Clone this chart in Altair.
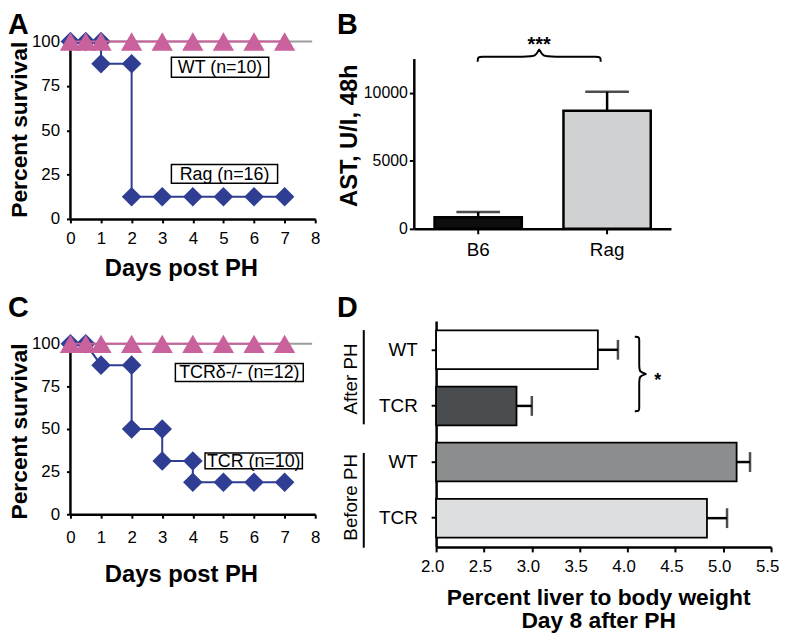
import altair as alt
import pandas as pd

FONT = "Liberation Sans"
BLUE = "#2f3e92"
PINK = "#c8619c"
GREY = "#9d9d9d"
B_COLORS = ["#0d0d0d", "#cfd1d3"]
D_COLORS = ["#ffffff", "#4a4d50", "#8b8d8f", "#dddee0"]

# ---------------- data ----------------
# Panel A: survival, Rag vs WT
a_rag_day = [0, 0.5, 1, 1, 2, 2, 3, 4, 5, 6, 7]
a_rag_surv = [100, 100, 100, 87.5, 87.5, 12.5, 12.5, 12.5, 12.5, 12.5, 12.5]
a_wt_day = [0, 0.5, 1, 2, 3, 4, 5, 6, 7]
a_wt_surv = [100, 100, 100, 100, 100, 100, 100, 100, 100]
a_labels = ["WT (n=10)", "Rag (n=16)"]

# Panel C: survival, TCR vs TCRdelta-/-
c_tcr_day = [0, 0.5, 1, 2, 2, 3, 3, 4, 4, 5, 6, 7]
c_tcr_surv = [100, 100, 87.5, 87.5, 50, 50, 31.25, 31.25, 18.75, 18.75, 18.75, 18.75]
c_ko_day = [0, 0.5, 1, 2, 3, 4, 5, 6, 7]
c_ko_surv = [100, 100, 100, 100, 100, 100, 100, 100, 100]
c_labels = ["TCRδ-/- (n=12)", "TCR (n=10)"]

# Panel B: AST
b_groups = ["B6", "Rag"]
b_mean = [850, 8700]
b_upper = [1240, 10100]
b_sig = ["***"]

# Panel D: liver / body weight
d_cats = ["After WT", "After TCR", "Before WT", "Before TCR"]
d_mean = [3.69, 2.84, 5.14, 4.83]
d_upper = [3.90, 3.00, 5.28, 5.04]
d_groups = ["After PH", "Before PH"]
d_sig = ["*"]

panel_letters = ["A", "B", "C", "D"]
surv_ticks = [0, 25, 50, 75, 100]
day_ticks = [0, 1, 2, 3, 4, 5, 6, 7, 8]
ast_ticks = [0, 5000, 10000]
ratio_ticks = [2.0, 2.5, 3.0, 3.5, 4.0, 4.5, 5.0, 5.5]

# ---------------- annotation geometry (data units) ----------------
a_box_x1 = [3.30, 3.30]
a_box_x2 = [6.48, 6.77]
a_box_y1 = [79.9, 20.1]
a_box_y2 = [91.1, 30.7]

c_box_x1 = [3.43, 4.40]
c_box_x2 = [7.61, 7.58]
c_box_y1 = [77.9, 26.7]
c_box_y2 = [88.4, 36.0]

# unit curly-brace outline (u along, v across; 0 = tips, 1 = cusp)
brace_u = [0.0, 0.0, 0.04, 0.10, 0.40, 0.47, 0.50, 0.50, 0.53, 0.60, 0.90, 0.96, 1.0, 1.0]
brace_v = [0.0, 0.45, 0.45, 0.45, 0.45, 0.45, 1.15, 1.15, 0.45, 0.45, 0.45, 0.45, 0.45, 0.0]

# D annotations in "bar index" units (0 = first bar centre)
d_group_y = [0.52, 2.63]
d_group_y1 = [-0.35, 1.84]
d_group_y2 = [1.33, 3.53]


def letter_layer(letter, dx, dy):
    return alt.Chart(pd.DataFrame({"t": [letter]})).mark_text(
        font=FONT, fontSize=29, fontWeight="bold", align="left", baseline="top", color="black"
    ).encode(x=alt.value(dx), y=alt.value(dy), text="t:N")


def survival_panel(letter, letter_y, ko_day, ko_surv, wt_day, wt_surv, labels,
                   bx1, bx2, by1, by2, height, ytop, title_y, lab_pad, title_pad):
    ko = pd.DataFrame({"day": ko_day, "surv": ko_surv, "i": list(range(len(ko_day)))})
    wt = pd.DataFrame({"day": wt_day, "surv": wt_surv, "i": list(range(len(wt_day)))})
    boxes = pd.DataFrame({"label": labels, "x1": bx1, "x2": bx2, "y1": by1, "y2": by2})
    boxes["xc"] = (boxes["x1"] + boxes["x2"]) / 2
    boxes["yc"] = (boxes["y1"] + boxes["y2"]) / 2
    frame = pd.DataFrame({"x0": [0.0], "x1": [7.9], "y0": [0.0], "top": [100.0]})

    xs = alt.Scale(domain=[0, 8], nice=False, zero=False)
    ys = alt.Scale(domain=[0, ytop], nice=False, zero=False)
    xaxis = alt.Axis(values=day_ticks, format="d", title="Days post PH",
                     tickSize=4, labelPadding=lab_pad, labelFontSize=17,
                     titleFontSize=24, titleFontWeight="bold", titlePadding=title_pad,
                     titleX=111.5)
    yaxis = alt.Axis(values=surv_ticks, domain=False, title="Percent survival",
                     tickSize=4, labelPadding=7, labelFontSize=17,
                     titleFontSize=23, titleFontWeight="bold", titlePadding=0, titleY=title_y)

    def X(f):
        return alt.X(f, scale=xs, axis=xaxis)

    def Y(f):
        return alt.Y(f, scale=ys, axis=yaxis)

    ko_line = alt.Chart(ko).mark_line(color=BLUE, strokeWidth=2).encode(
        x=X("day:Q"), y=Y("surv:Q"), order="i:Q")
    axis_line = alt.Chart(frame).mark_rule(color="black", strokeWidth=2.5).encode(
        x=X("x0:Q"), y=Y("y0:Q"), y2="top:Q")
    ref_line = alt.Chart(frame).mark_rule(color=GREY, strokeWidth=2).encode(
        x=X("x0:Q"), x2="x1:Q", y=Y("top:Q"))
    ko_pts = alt.Chart(ko).mark_point(shape="diamond", filled=True, size=390,
                                      color=BLUE, opacity=1).encode(x=X("day:Q"), y=Y("surv:Q"))
    wt_line = alt.Chart(wt).mark_line(color=PINK, strokeWidth=2).encode(
        x=X("day:Q"), y=Y("surv:Q"), order="i:Q")
    wt_pts = alt.Chart(wt).mark_point(shape="triangle-up", filled=True, size=460,
                                      color=PINK, opacity=1).encode(x=X("day:Q"), y=Y("surv:Q"))

    box = alt.Chart(boxes).mark_rect(fill="white", stroke="black", strokeWidth=1.5).encode(
        x=X("x1:Q"), x2="x2:Q", y=Y("y1:Q"), y2="y2:Q")
    box_text = alt.Chart(boxes).mark_text(font=FONT, fontSize=18, color="black",
                                          baseline="middle", dy=1).encode(
        x=X("xc:Q"), y=Y("yc:Q"), text="label:N")

    return alt.layer(
        ko_line, axis_line, ref_line, ko_pts, wt_line, wt_pts, box, box_text,
        letter_layer(letter, -63, letter_y)
    ).properties(width=247, height=height)


# ---------------- panel A / C ----------------
panel_a = survival_panel(panel_letters[0], -31, a_rag_day, a_rag_surv, a_wt_day, a_wt_surv,
                         a_labels, a_box_x1, a_box_x2, a_box_y1, a_box_y2, 179, 100, 88.5,
                         8, 10)
panel_c = survival_panel(panel_letters[2], -27, c_tcr_day, c_tcr_surv, c_ko_day, c_ko_surv,
                         c_labels, c_box_x1, c_box_x2, c_box_y1, c_box_y2, 195, 113.4, 111,
                         12, 17)

# ---------------- panel B ----------------
b_df = pd.DataFrame({"g": b_groups, "mean": b_mean, "upper": b_upper})
b_xs = alt.Scale(domain=b_groups, paddingInner=0.323, paddingOuter=0.157)
b_ys = alt.Scale(domain=[0, 13790], nice=False, zero=False)
b_xaxis = alt.Axis(title=None, labelAngle=0, labelFontSize=19, tickSize=5, labelPadding=7)
b_yaxis = alt.Axis(values=ast_ticks, format="d", domain=False, title="AST, U/I, 48h",
                   labelFontSize=16, tickSize=5, labelPadding=2,
                   titleFontSize=24, titleFontWeight="bold", titlePadding=2)


def BX(f):
    return alt.X(f, scale=b_xs, sort=b_groups, axis=b_xaxis)


def BY(f):
    return alt.Y(f, scale=b_ys, axis=b_yaxis)


b_bars = alt.Chart(b_df).mark_bar(stroke="black", strokeWidth=2.5).encode(
    x=BX("g:N"), y=BY("mean:Q"),
    color=alt.Color("g:N", scale=alt.Scale(domain=b_groups, range=B_COLORS), legend=None),
)
b_err = alt.Chart(b_df).mark_rule(color="black", strokeWidth=2.5).encode(
    x=BX("g:N"), y=BY("mean:Q"), y2="upper:Q")
b_cap = alt.Chart(b_df).mark_tick(color="black", thickness=2.5, size=44).encode(
    x=BX("g:N"), y=BY("upper:Q"))
b_frame = pd.DataFrame({"y0": [0.0], "top": [12500.0]})
b_axis_line = alt.Chart(b_frame).mark_rule(color="black", strokeWidth=2.5).encode(
    x=alt.value(0), y=BY("y0:Q"), y2="top:Q")

b_main = alt.layer(b_bars, b_axis_line, b_err, b_cap, letter_layer(panel_letters[1], -78, -31))

b_brace_df = pd.DataFrame({"u": brace_u, "v": brace_v, "i": list(range(len(brace_u)))})
b_brace_df["bx"] = 0.494 + 0.958 * b_brace_df["u"]
b_brace_df["by"] = 12310 + 803 * b_brace_df["v"]
b_ann_x = alt.Scale(domain=[0, 2], nice=False, zero=False)
b_brace = alt.Chart(b_brace_df).mark_line(color="black", strokeWidth=2, interpolate="basis").encode(
    x=alt.X("bx:Q", scale=b_ann_x, axis=None), y=BY("by:Q"), order="i:Q")
b_star = alt.Chart(pd.DataFrame({"t": b_sig, "bx": [0.973], "by": [13061]})).mark_text(
    font=FONT, fontSize=20, fontWeight="bold", color="black", baseline="alphabetic"
).encode(x=alt.X("bx:Q", axis=None), y=BY("by:Q"), text="t:N")
b_ann = alt.layer(b_brace, b_star)

panel_b = alt.layer(b_main, b_ann).resolve_scale(x="independent").properties(width=259, height=189)

# ---------------- panel D ----------------
d_df = pd.DataFrame({"cat": d_cats, "mean": d_mean, "upper": d_upper})
d_df["base"] = 2.0
d_ys = alt.Scale(domain=d_cats, paddingInner=0.31, paddingOuter=0.168)
d_xs = alt.Scale(domain=[2, 5.5], nice=False, zero=False)
d_yaxis = alt.Axis(title=None, labelExpr="split(datum.label, ' ')[1]",
                   labelFontSize=19, tickSize=5, labelPadding=14)
d_xaxis = alt.Axis(values=ratio_ticks, format=".1f",
                   title=["Percent liver to body weight", "Day 8 after PH"],
                   labelFontSize=17, tickSize=5, labelPadding=7, labelOffset=-4,
                   titleFontSize=23, titleFontWeight="bold", titleLineHeight=23,
                   titlePadding=12, titleX=163.5)


def DX(f):
    return alt.X(f, scale=d_xs, axis=d_xaxis)


def DY(f):
    return alt.Y(f, scale=d_ys, sort=d_cats, axis=d_yaxis)


d_bars = alt.Chart(d_df).mark_bar(stroke="black", strokeWidth=1.8).encode(
    y=DY("cat:N"), x=DX("mean:Q"), x2="base:Q",
    color=alt.Color("cat:N", scale=alt.Scale(domain=d_cats, range=D_COLORS), legend=None),
)
d_err = alt.Chart(d_df).mark_rule(color="black", strokeWidth=2.5).encode(
    y=DY("cat:N"), x=DX("mean:Q"), x2="upper:Q")
d_cap = alt.Chart(d_df).mark_tick(color="black", thickness=2.5, size=20).encode(
    y=DY("cat:N"), x=DX("upper:Q"))

d_main = alt.layer(d_bars, d_err, d_cap, letter_layer(panel_letters[3], -100, -27))

d_ann_y = alt.Scale(domain=[-0.512, 3.516], reverse=True, nice=False, zero=False)
d_brace_df = pd.DataFrame({"u": brace_u, "v": brace_v, "i": list(range(len(brace_u)))})
d_brace_df["bx"] = 4.076 + 0.103 * d_brace_df["v"]
d_brace_df["by"] = -0.23 + 1.325 * d_brace_df["u"]
d_brace = alt.Chart(d_brace_df).mark_line(color="black", strokeWidth=2, interpolate="basis").encode(
    x=DX("bx:Q"), y=alt.Y("by:Q", scale=d_ann_y, axis=None), order="i:Q")
d_star = alt.Chart(pd.DataFrame({"t": d_sig, "bx": [4.316], "by": [0.64]})).mark_text(
    font=FONT, fontSize=18, fontWeight="bold", color="black", baseline="alphabetic"
).encode(x=DX("bx:Q"), y=alt.Y("by:Q", axis=None), text="t:N")
grp_df = pd.DataFrame({"g": d_groups, "by": d_group_y, "y1": d_group_y1, "y2": d_group_y2})
d_grp_line = alt.Chart(grp_df).mark_rule(color="black", strokeWidth=2).encode(
    x=alt.value(-73), y=alt.Y("y1:Q", axis=None), y2="y2:Q")
d_grp_text = alt.Chart(grp_df).mark_text(font=FONT, fontSize=19, color="black", angle=270,
                                         align="center", baseline="middle").encode(
    x=alt.value(-86), y=alt.Y("by:Q", axis=None), text="g:N")
d_ann = alt.layer(d_brace, d_star, d_grp_line, d_grp_text)

panel_d = alt.layer(d_main, d_ann).resolve_scale(y="independent").properties(width=338, height=228)

# ---------------- layout ----------------
row1 = alt.hconcat(panel_a, panel_b, spacing=100, bounds="flush")
row2 = alt.hconcat(panel_c, panel_d, spacing=122, bounds="flush")

chart = alt.vconcat(row1, row2, spacing=14).resolve_scale(color="independent").properties(
    padding={"left": 0, "top": 0, "right": 0, "bottom": 0}
).configure_view(stroke=None).configure_axis(
    domainColor="black", domainWidth=2.5, tickColor="black", tickWidth=2,
    labelColor="black", titleColor="black", labelFont=FONT, titleFont=FONT,
    grid=False, labelFlush=False
)

chart.save("out.html", embed_options={"renderer": "svg", "actions": False})
